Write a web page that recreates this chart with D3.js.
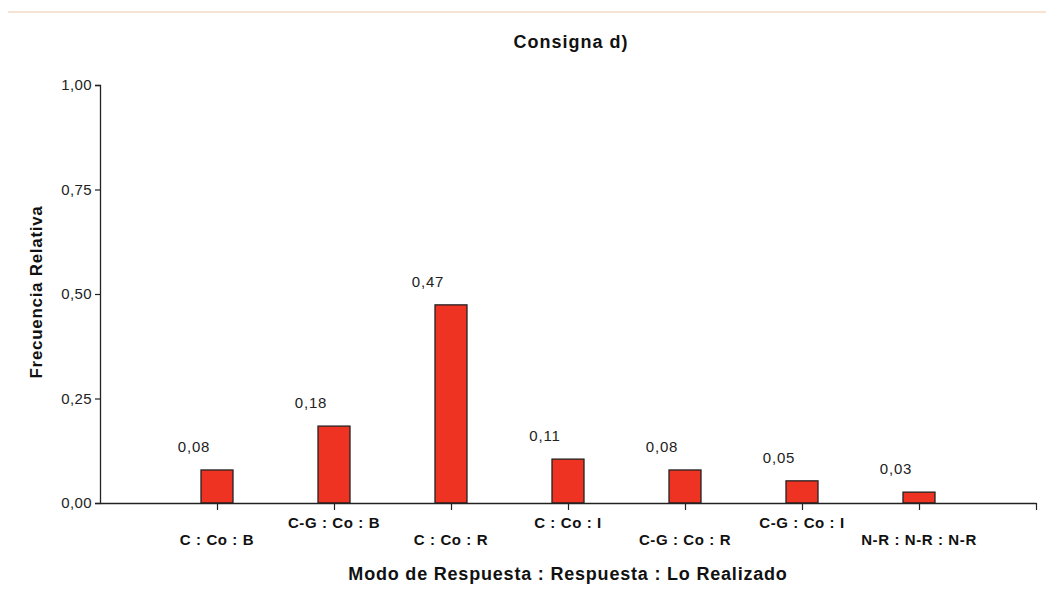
<!DOCTYPE html>
<html>
<head>
<meta charset="utf-8">
<script src="https://cdn.jsdelivr.net/npm/d3@7"></script>
<style>
  html, body { margin: 0; padding: 0; background: #fff; }
  svg { display: block; }
</style>
</head>
<body>
<svg id="chart" width="1046" height="592"></svg>
<script>
const categories = ["C : Co : B", "C-G : Co : B", "C : Co : R", "C : Co : I", "C-G : Co : R", "C-G : Co : I", "N-R : N-R : N-R"];
const values = [0.079, 0.184, 0.474, 0.105, 0.079, 0.053, 0.026];
const valueLabels = ["0,08", "0,18", "0,47", "0,11", "0,08", "0,05", "0,03"];
const yTicks = [0, 0.25, 0.5, 0.75, 1.0];
const title = "Consigna d)";
const xTitle = "Modo de Respuesta : Respuesta : Lo Realizado";
const yTitle = "Frecuencia Relativa";

const svg = d3.select("#chart");
const font = "'Liberation Sans', Arial, sans-serif";

// faint top line
svg.append("line").attr("x1", 8).attr("x2", 1046).attr("y1", 12).attr("y2", 12)
  .attr("stroke", "#f6d8c4").attr("stroke-width", 1.5);

const x = d3.scaleLinear().domain([0, categories.length + 1]).range([100, 1036]);
const y = d3.scaleLinear().domain([0, 1]).range([503, 85]);
const fmt = v => d3.format(".2f")(v).replace(".", ",");

// y axis
const yAxis = d3.axisLeft(y).tickValues(yTicks).tickFormat(fmt).tickSize(5).tickPadding(3);
const gy = svg.append("g").attr("transform", `translate(${x(0)},0)`).call(yAxis);
gy.select(".domain").attr("stroke", "#222").attr("stroke-width", 1.3);
gy.selectAll(".tick line").attr("stroke", "#222").attr("stroke-width", 1.2);
gy.selectAll(".tick text").attr("font-family", font).attr("font-size", 15)
  .attr("letter-spacing", "0.4px").attr("fill", "#222");

// bars
const barW = 32;
svg.append("g").selectAll("rect").data(values).join("rect")
  .attr("x", (d, i) => x(i + 1) - barW / 2)
  .attr("width", barW)
  .attr("y", d => y(d))
  .attr("height", d => y(0) - y(d))
  .attr("fill", "#ee3322")
  .attr("stroke", "#222")
  .attr("stroke-width", 1.3);

// x axis
const xAxis = d3.axisBottom(x).tickValues(d3.range(1, categories.length + 2)).tickFormat("").tickSize(7).tickSizeOuter(0);
const gx = svg.append("g").attr("transform", `translate(0,${y(0)})`).call(xAxis);
gx.select(".domain").attr("stroke", "#222").attr("stroke-width", 1.3);
gx.selectAll(".tick line").attr("stroke", "#222").attr("stroke-width", 1.2);

// category labels (staggered)
svg.append("g").selectAll("text").data(categories).join("text")
  .attr("x", (d, i) => x(i + 1))
  .attr("y", (d, i) => i % 2 === 0 ? 545 : 528)
  .attr("text-anchor", "middle")
  .attr("font-family", font).attr("font-weight", "bold").attr("font-size", 15)
  .attr("letter-spacing", "0.6px")
  .attr("fill", "#111")
  .text(d => d);

// value labels
svg.append("g").selectAll("text").data(values).join("text")
  .attr("x", (d, i) => x(i + 1) - 23)
  .attr("y", d => y(d) - 18)
  .attr("text-anchor", "middle")
  .attr("font-family", font).attr("font-size", 15)
  .attr("letter-spacing", "0.8px")
  .attr("fill", "#222")
  .text((d, i) => valueLabels[i]);

// titles
svg.append("text").attr("x", 571).attr("y", 48).attr("text-anchor", "middle")
  .attr("font-family", font).attr("font-weight", "bold").attr("font-size", 18)
  .attr("letter-spacing", "1px")
  .attr("fill", "#111").text(title);

svg.append("text").attr("x", 568).attr("y", 580).attr("text-anchor", "middle")
  .attr("font-family", font).attr("font-weight", "bold").attr("font-size", 18)
  .attr("letter-spacing", "0.8px")
  .attr("fill", "#111").text(xTitle);

svg.append("text").attr("transform", "translate(42,292) rotate(-90)").attr("text-anchor", "middle")
  .attr("font-family", font).attr("font-weight", "bold").attr("font-size", 17)
  .attr("letter-spacing", "0.7px")
  .attr("fill", "#111").text(yTitle);
</script>
</body>
</html>
